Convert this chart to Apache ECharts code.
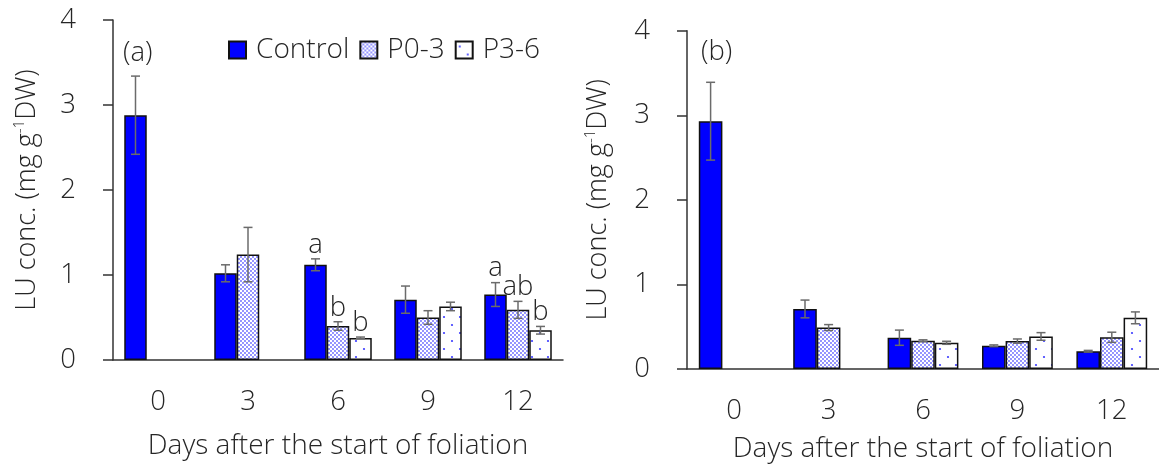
<!DOCTYPE html>
<html>
<head>
<meta charset="utf-8">
<script src="https://cdn.jsdelivr.net/npm/echarts@6/dist/echarts.min.js"></script>
<style>
  html, body { margin: 0; padding: 0; background: #fff; }
  #chart { width: 1159px; height: 468px; }
</style>
</head>
<body>
<div id="chart"></div>
<script>
// Days after the start of foliation
const days = ['0', '3', '6', '9', '12'];
const seriesNames = ['Control', 'P0-3', 'P3-6'];

// Panel (a): mean LU concentration and standard deviation
const controlA = [2.88, 1.02, 1.12, 0.71, 0.77];
const controlASd = [0.46, 0.10, 0.07, 0.16, 0.14];
const p03A = [null, 1.24, 0.40, 0.50, 0.59];
const p03ASd = [null, 0.32, 0.05, 0.08, 0.10];
const p36A = [null, null, 0.26, 0.63, 0.35];
const p36ASd = [null, null, 0.01, 0.05, 0.045];
// Significance letters for panel (a)
const controlALetters = ['', '', 'a', '', 'a'];
const p03ALetters = ['', '', 'b', '', 'ab'];
const p36ALetters = ['', '', 'b', '', 'b'];

// Panel (b)
const controlB = [2.93, 0.71, 0.37, 0.275, 0.21];
const controlBSd = [0.46, 0.105, 0.09, 0.01, 0.01];
const p03B = [null, 0.49, 0.335, 0.33, 0.375];
const p03BSd = [null, 0.035, 0.01, 0.025, 0.06];
const p36B = [null, null, 0.31, 0.385, 0.605];
const p36BSd = [null, null, 0.018, 0.045, 0.07];

const yTicks = [0, 1, 2, 3, 4];

const FONT = '"Open Sans", "Noto Sans", sans-serif';
const TEXT = '#262626';
const BLUE = '#0000ff';
const FS = 27.5;
const FW = 300;

// Dotted fills for the treatment bars
function dotPattern(size, dots, r, color) {
  const c = document.createElement('canvas');
  c.width = size; c.height = size;
  const g = c.getContext('2d');
  g.fillStyle = '#ffffff';
  g.fillRect(0, 0, size, size);
  g.fillStyle = color;
  dots.forEach(function (d) {
    g.beginPath();
    g.arc(d[0], d[1], r, 0, Math.PI * 2);
    g.fill();
  });
  return { image: c, repeat: 'repeat' };
}
const denseDots = dotPattern(4, [[1, 1], [3, 3]], 0.9, '#6262ff');
const sparseDots = dotPattern(16, [[4, 5], [12, 13]], 1.1, '#3c3cff');
const fills = [BLUE, denseDots, sparseDots];

function barSeries(panel, idx, values) {
  return {
    name: seriesNames[idx],
    type: 'bar',
    xAxisIndex: panel,
    yAxisIndex: panel,
    data: values.map(function (v) { return v == null ? '-' : v; }),
    barGap: '0%',
    barCategoryGap: '25%',
    itemStyle: { color: fills[idx], borderColor: '#111', borderWidth: 1.5 },
    emphasis: { disabled: true },
    z: 2
  };
}

function errorSeries(panel, idx, values, sds, letters) {
  const data = [];
  const labels = [];
  values.forEach(function (v, i) {
    if (v == null) return;
    data.push([i, v, sds[i]]);
    labels.push(letters ? letters[i] : '');
  });
  return {
    name: 'err-' + panel + '-' + idx,
    type: 'custom',
    xAxisIndex: panel,
    yAxisIndex: panel,
    silent: true,
    z: 5,
    data: data,
    renderItem: function (params, api) {
      const cat = api.value(0), m = api.value(1), sd = api.value(2);
      const band = api.size([1, 0])[0];
      const bw = band * 0.25;
      const cx = api.coord([cat, m])[0] + (idx - 1) * bw;
      const yt = api.coord([cat, m + sd])[1];
      const yb = api.coord([cat, m - sd])[1];
      const cap = 4.5;
      const ls = { stroke: '#6b6b6b', lineWidth: 1.5 };
      const children = [
        { type: 'line', shape: { x1: cx, y1: yt, x2: cx, y2: yb }, style: ls },
        { type: 'line', shape: { x1: cx - cap, y1: yt, x2: cx + cap, y2: yt }, style: ls },
        { type: 'line', shape: { x1: cx - cap, y1: yb, x2: cx + cap, y2: yb }, style: ls }
      ];
      const lab = labels[params.dataIndex];
      if (lab) {
        children.push({
          type: 'text',
          x: cx, y: yt,
          style: { text: lab, fill: TEXT, fontSize: FS, fontWeight: FW, fontFamily: FONT, align: 'center', verticalAlign: 'bottom' }
        });
      }
      return { type: 'group', children: children };
    }
  };
}

function xAxis(gridIndex, nameGap) {
  return {
    type: 'category',
    gridIndex: gridIndex,
    data: days,
    axisLine: { lineStyle: { color: '#333', width: 1.5 } },
    axisTick: { show: false },
    axisLabel: { color: TEXT, fontSize: FS, fontWeight: FW, fontFamily: FONT, margin: 28 },
    name: 'Days after the start of foliation',
    nameLocation: 'middle',
    nameGap: nameGap,
    nameTextStyle: { color: TEXT, fontSize: 28, fontWeight: FW, fontFamily: FONT }
  };
}

function yAxis(gridIndex, nameGap) {
  return {
    type: 'value',
    gridIndex: gridIndex,
    min: yTicks[0],
    max: yTicks[yTicks.length - 1],
    interval: 1,
    splitLine: { show: false },
    axisLine: { show: true, lineStyle: { color: '#333', width: 1.5 } },
    axisTick: { show: true, length: 10, lineStyle: { color: '#333', width: 1.5 } },
    axisLabel: { color: TEXT, fontSize: FS, fontWeight: FW, fontFamily: FONT, margin: 37 },
    name: '{t|LU conc. (mg g}{s|-1}{t|DW)}',
    nameLocation: 'middle',
    nameGap: nameGap,
    nameRotate: 90,
    nameTextStyle: {
      rich: {
        t: { color: TEXT, fontSize: 27, fontWeight: FW, fontFamily: FONT, lineHeight: 30 },
        s: { color: TEXT, fontSize: 15, fontWeight: FW, fontFamily: FONT, verticalAlign: 'top', lineHeight: 30 }
      }
    }
  };
}

const chart = echarts.init(document.getElementById('chart'), null, { renderer: 'canvas' });
chart.setOption({
  animation: false,
  backgroundColor: '#ffffff',
  title: [
    { text: '(a)', left: 123, top: 39, padding: 0, textStyle: { color: TEXT, fontSize: FS, fontWeight: FW, fontFamily: FONT } },
    { text: '(b)', left: 701, top: 38, padding: 0, textStyle: { color: TEXT, fontSize: FS, fontWeight: FW, fontFamily: FONT } }
  ],
  legend: {
    data: seriesNames,
    left: 228,
    top: 36,
    padding: 0,
    itemWidth: 17,
    itemHeight: 17,
    itemGap: 10,
    icon: 'rect',
    selectedMode: false,
    textStyle: { color: TEXT, fontSize: 28, fontWeight: FW, fontFamily: FONT, padding: [0, 0, 0, 5] }
  },
  grid: [
    { left: 113, top: 20, width: 450, height: 340 },
    { left: 687, top: 30.7, width: 479, height: 340 }
  ],
  xAxis: [xAxis(0, 72), xAxis(1, 66)],
  yAxis: [yAxis(0, 71), yAxis(1, 74)],
  series: [
    barSeries(0, 0, controlA),
    barSeries(0, 1, p03A),
    barSeries(0, 2, p36A),
    barSeries(1, 0, controlB),
    barSeries(1, 1, p03B),
    barSeries(1, 2, p36B),
    errorSeries(0, 0, controlA, controlASd, controlALetters),
    errorSeries(0, 1, p03A, p03ASd, p03ALetters),
    errorSeries(0, 2, p36A, p36ASd, p36ALetters),
    errorSeries(1, 0, controlB, controlBSd, null),
    errorSeries(1, 1, p03B, p03BSd, null),
    errorSeries(1, 2, p36B, p36BSd, null)
  ]
});
</script>
</body>
</html>
